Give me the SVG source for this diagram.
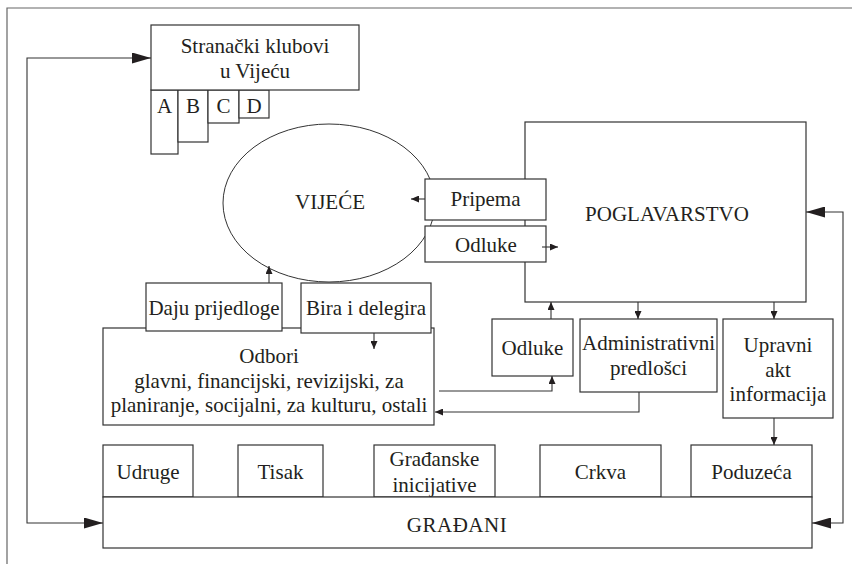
<svg xmlns="http://www.w3.org/2000/svg" width="852" height="564" viewBox="0 0 852 564">
<defs>
<style>
.box{fill:#fff;stroke:#333;stroke-width:1.2}
.ln{fill:none;stroke:#333;stroke-width:1.1}
.frame{fill:none;stroke:#666;stroke-width:1.2}
text{font-family:"Liberation Serif","Times New Roman",serif;font-size:21px;fill:#231f20;text-anchor:middle}
</style>
<marker id="big" markerUnits="userSpaceOnUse" markerWidth="19" markerHeight="11" refX="19" refY="5.5" orient="auto-start-reverse"><path d="M0,0 L19,5.5 L0,11 z" fill="#231f20"/></marker>
<marker id="sm" markerUnits="userSpaceOnUse" markerWidth="8" markerHeight="7" refX="8" refY="3.5" orient="auto"><path d="M0,0 L8,3.5 L0,7 z" fill="#231f20"/></marker>
</defs>
<rect width="852" height="564" fill="#fff"/>
<path class="frame" d="M7,564 L7,8 L852,8"/>

<g id="klubovi">
<rect class="box" x="151" y="90" width="27" height="64"/>
<rect class="box" x="178" y="90" width="30" height="52"/>
<rect class="box" x="208" y="90" width="31" height="33"/>
<rect class="box" x="239" y="90" width="30" height="28"/>
<text x="164.5" y="113">A</text>
<text x="193" y="113">B</text>
<text x="223.5" y="113">C</text>
<text x="254" y="113">D</text>
<rect class="box" x="151" y="25" width="208" height="65"/>
<text x="255" y="53">Stranački klubovi</text>
<text x="255" y="78">u Vijeću</text>
</g>

<g id="vijece">
<ellipse cx="329" cy="203" rx="106" ry="79" fill="none" stroke="#333" stroke-width="1"/>
<text x="330" y="209">VIJEĆE</text>
</g>

<g id="poglavarstvo">
<rect class="box" x="525" y="122" width="281" height="180"/>
<text x="667" y="221">POGLAVARSTVO</text>
</g>

<g id="pripema">
<rect class="box" x="425" y="179" width="121" height="41"/>
<text x="485.5" y="206">Pripema</text>
</g>

<g id="odluke1">
<rect class="box" x="425" y="226" width="121" height="36"/>
<text x="486" y="252">Odluke</text>
</g>

<g id="odbori">
<rect class="box" x="103" y="328" width="331" height="97"/>
<text x="269" y="363">Odbori</text>
<text x="269" y="388">glavni, financijski, revizijski, za</text>
<text x="269" y="412">planiranje, socijalni, za kulturu, ostali</text>
</g>

<g id="daju">
<rect class="box" x="146" y="283" width="136" height="48"/>
<text x="214" y="315">Daju prijedloge</text>
</g>

<g id="bira">
<rect class="box" x="301" y="283" width="130" height="50"/>
<text x="366" y="315">Bira i delegira</text>
</g>

<g id="odluke2">
<rect class="box" x="492" y="319" width="81" height="57"/>
<text x="532.5" y="355">Odluke</text>
</g>

<g id="administrativni">
<rect class="box" x="580" y="319" width="137" height="73"/>
<text x="648.5" y="350">Administrativni</text>
<text x="648.5" y="375">predlošci</text>
</g>

<g id="upravni">
<rect class="box" x="723" y="319" width="110" height="99"/>
<text x="778" y="352">Upravni</text>
<text x="778" y="377">akt</text>
<text x="778" y="401">informacija</text>
</g>

<g id="udruge">
<rect class="box" x="103" y="445" width="90" height="52"/>
<text x="148" y="479">Udruge</text>
</g>
<g id="tisak">
<rect class="box" x="238" y="445" width="85" height="52"/>
<text x="280.5" y="479">Tisak</text>
</g>
<g id="gradjanske">
<rect class="box" x="374" y="445" width="121" height="52"/>
<text x="434.5" y="466">Građanske</text>
<text x="434.5" y="492">inicijative</text>
</g>
<g id="crkva">
<rect class="box" x="540" y="445" width="121" height="52"/>
<text x="600.5" y="479">Crkva</text>
</g>
<g id="poduzeca">
<rect class="box" x="691" y="445" width="121" height="52"/>
<text x="751.5" y="479">Poduzeća</text>
</g>

<g id="gradjani">
<rect class="box" x="103" y="497" width="709" height="51"/>
<text x="457" y="532" letter-spacing="0.5">GRAĐANI</text>
</g>

<g id="connectors">
<path class="ln" d="M103,523 L27,523 L27,58 L151,58" marker-start="url(#big)" marker-end="url(#big)"/>
<path class="ln" d="M806,212 L843,212 L843,523 L812,523" marker-start="url(#big)" marker-end="url(#big)"/>
<path class="ln" d="M425,199 L411,199" marker-end="url(#sm)"/>
<path class="ln" d="M542,247 L558,247" marker-end="url(#sm)"/>
<path class="ln" d="M269,283 L269,266" marker-end="url(#sm)"/>
<path class="ln" d="M374,333 L374,349" marker-end="url(#sm)"/>
<path class="ln" d="M551,319 L551,302" marker-end="url(#sm)"/>
<path class="ln" d="M638,302 L638,319" marker-end="url(#sm)"/>
<path class="ln" d="M774,302 L774,319" marker-end="url(#sm)"/>
<path class="ln" d="M439,391 L552,391 L552,376" marker-end="url(#sm)"/>
<path class="ln" d="M639,392 L639,412 L435,412" marker-end="url(#sm)"/>
<path class="ln" d="M774,418 L774,445" marker-end="url(#sm)"/>
</g>
</svg>
